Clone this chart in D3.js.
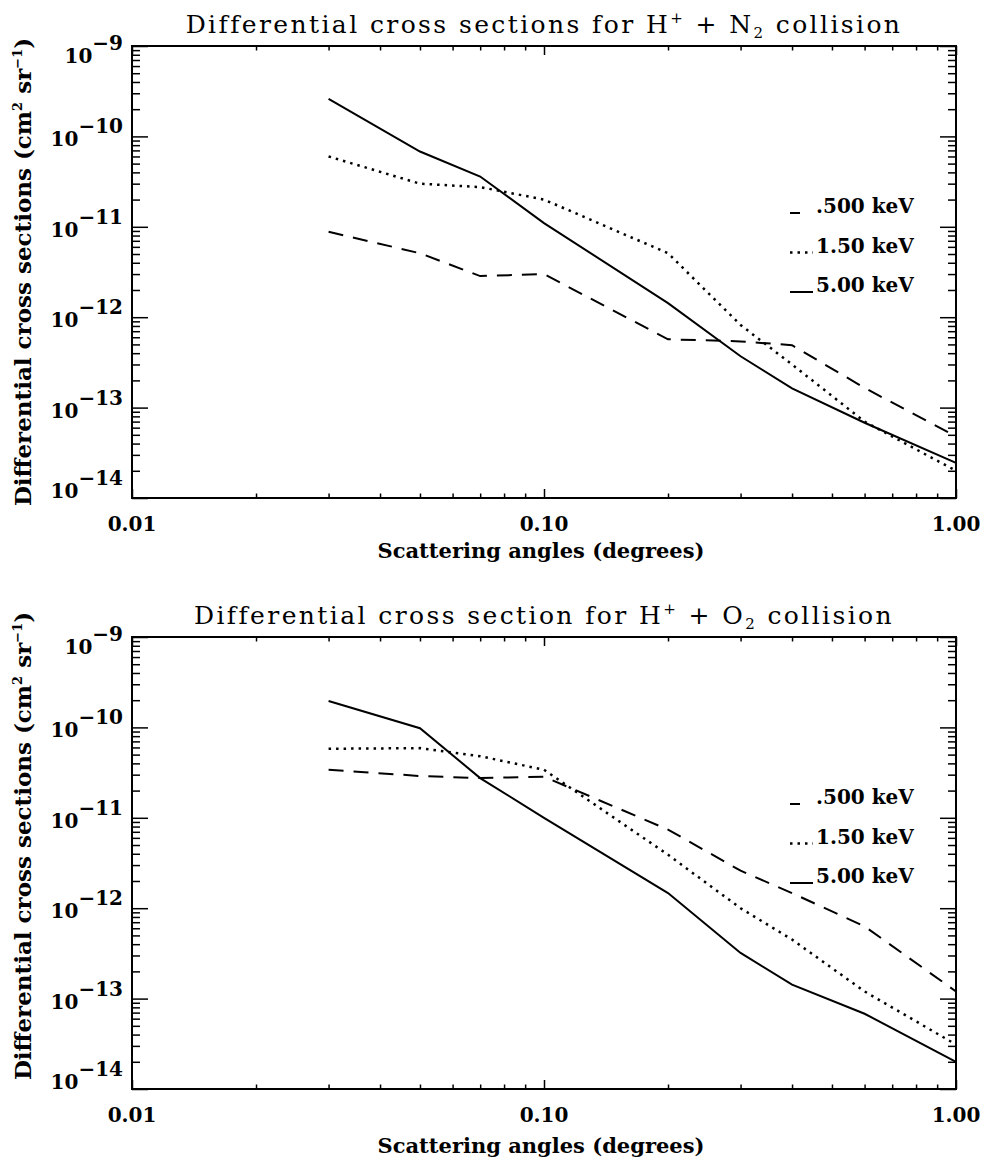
<!DOCTYPE html>
<html>
<head>
<meta charset="utf-8">
<script src="https://cdn.jsdelivr.net/npm/d3@7"></script>
<style>
body { margin: 0; background: #fff; }
</style>
</head>
<body>
<svg id="chart"></svg>
<script>
// scattering angles (degrees)
const angles = [0.03, 0.05, 0.07, 0.1, 0.2, 0.3, 0.4, 0.6, 1.0];

// H+ + N2, cm^2 sr^-1
const n2_500  = [8.8e-12, 5.1e-12, 2.85e-12, 3.0e-12, 5.7e-13, 5.4e-13, 4.9e-13, 1.65e-13, 4.8e-14];
const n2_1500 = [6.0e-11, 3.0e-11, 2.75e-11, 2.0e-11, 5.1e-12, 8.2e-13, 3.0e-13, 7.0e-14, 2.0e-14];
const n2_5000 = [2.6e-10, 6.8e-11, 3.6e-11, 1.1e-11, 1.43e-12, 3.7e-13, 1.63e-13, 6.8e-14, 2.45e-14];

// H+ + O2
const o2_500  = [3.4e-11, 2.9e-11, 2.75e-11, 2.85e-11, 7.4e-12, 2.6e-12, 1.47e-12, 6.3e-13, 1.2e-13];
const o2_1500 = [5.8e-11, 5.9e-11, 4.8e-11, 3.4e-11, 3.9e-12, 1.0e-12, 4.5e-13, 1.2e-13, 3.1e-14];
const o2_5000 = [1.96e-10, 9.8e-11, 2.75e-11, 1.0e-11, 1.47e-12, 3.2e-13, 1.43e-13, 6.8e-14, 2.0e-14];

const energies = ['.500 keV', '1.50 keV', '5.00 keV'];
const xMajor = [0.01, 0.1, 1];
const yExps = [-9, -10, -11, -12, -13, -14];

const dashes = ['15,10', '2.5,5', null];
const legendDash = ['10,20', '2.5,5', null];

const W = 985, H = 1166;
const left = 132, width = 824, height = 452;
const serif = '"DejaVu Serif", serif';

const svg = d3.select('#chart').attr('width', W).attr('height', H);

const panels = [
  {top: 46, target: 'N', plural: 's', series: [n2_500, n2_1500, n2_5000], labelMid: 272, xTitleOff: 60},
  {top: 637, target: 'O', plural: '', series: [o2_500, o2_1500, o2_5000], labelMid: 846, xTitleOff: 64}
];

const x = d3.scaleLog().domain([0.01, 1]).range([0, width]);
const y = d3.scaleLog().domain([1e-14, 1e-9]).range([height, 0]);

const xMinor = [];
[0.01, 0.1].forEach(d => { for (let k = 2; k <= 9; k++) xMinor.push(k * d); });
const yMinor = [];
for (let e = -14; e < -9; e++) for (let k = 2; k <= 9; k++) yMinor.push(k * Math.pow(10, e));
const yMajor = yExps.map(e => Math.pow(10, e));

const line = d3.line()
    .x((d, i) => x(angles[i]))
    .y(d => y(d));

panels.forEach(p => {
  const g = svg.append('g').attr('transform', `translate(${left},${p.top})`);

  // title
  const t = svg.append('text')
      .attr('x', left + width / 2)
      .attr('y', p.top - 13)
      .attr('text-anchor', 'middle')
      .attr('font-family', serif)
      .attr('font-size', 25)
      .attr('letter-spacing', 2.4);
  t.append('tspan').text(`Differential cross section${p.plural} for H`);
  t.append('tspan').attr('dy', -10).attr('font-size', 15).text('+');
  t.append('tspan').attr('dy', 10).text(` + ${p.target}`);
  t.append('tspan').attr('dy', 5).attr('font-size', 15).text('2');
  t.append('tspan').attr('dy', -5).text(' collision');

  // ticks, all pointing inward
  const tickAxis = (axis, major, minor, big, small, tr) => {
    [[major, big], [minor, small]].forEach(([vals, len]) => {
      g.append('g')
          .attr('transform', tr)
          .call(axis.tickValues(vals).tickSize(-len).tickFormat(''))
          .call(a => a.select('.domain').remove())
          .selectAll('line').attr('stroke', '#000').attr('stroke-width', 1.5);
    });
  };
  tickAxis(d3.axisBottom(x), xMajor, xMinor, 9, 4.5, `translate(0,${height})`);
  tickAxis(d3.axisTop(x), xMajor, xMinor, 9, 4.5, 'translate(0,0)');
  tickAxis(d3.axisLeft(y), yMajor, yMinor, 16, 8, 'translate(0,0)');
  tickAxis(d3.axisRight(y), yMajor, yMinor, 16, 8, `translate(${width},0)`);

  g.append('rect')
      .attr('width', width).attr('height', height)
      .attr('fill', 'none').attr('stroke', '#000').attr('stroke-width', 2);

  // x tick labels
  g.append('g').selectAll('text')
    .data(xMajor)
    .join('text')
      .attr('x', d => x(d))
      .attr('y', height + 33)
      .attr('text-anchor', 'middle')
      .attr('font-family', serif)
      .attr('font-weight', 'bold')
      .attr('font-size', 20)
      .text(d3.format('.2f'));

  // y tick labels 10^n
  g.append('g').selectAll('text')
    .data(yExps)
    .join('text')
      .attr('x', -9)
      .attr('y', e => Math.min(height, Math.max(17, y(Math.pow(10, e)) + 10)))
      .attr('text-anchor', 'end')
      .attr('font-family', serif)
      .attr('font-weight', 'bold')
      .attr('font-size', 20)
      .each(function(e) {
        const s = d3.select(this);
        s.append('tspan').text('10');
        s.append('tspan').attr('dy', -13).text('\u2212' + (-e));
      });

  // axis titles
  svg.append('text')
      .attr('x', left + width / 2 - 3)
      .attr('y', p.top + height + p.xTitleOff)
      .attr('text-anchor', 'middle')
      .attr('font-family', serif)
      .attr('font-weight', 'bold')
      .attr('font-size', 21)
      .text('Scattering angles (degrees)');

  const yl = svg.append('text')
      .attr('transform', `translate(31,${p.labelMid}) rotate(-90)`)
      .attr('text-anchor', 'middle')
      .attr('font-family', serif)
      .attr('font-weight', 'bold')
      .attr('font-size', 23);
  yl.append('tspan').text('Differential cross sections (cm');
  yl.append('tspan').attr('dy', -9).attr('font-size', 13).text('2');
  yl.append('tspan').attr('dy', 9).text(' sr');
  yl.append('tspan').attr('dy', -9).attr('font-size', 13).text('\u22121');
  yl.append('tspan').attr('dy', 9).text(')');

  // curves
  g.selectAll('path.curve')
    .data(p.series)
    .join('path')
      .attr('class', 'curve')
      .attr('d', line)
      .attr('fill', 'none')
      .attr('stroke', '#000')
      .attr('stroke-width', (d, i) => i === 1 ? 2.5 : 2)
      .attr('stroke-dasharray', (d, i) => dashes[i]);

  // legend
  const lg = g.append('g').selectAll('g')
    .data(energies)
    .join('g')
      .attr('transform', (d, i) => `translate(${790 - left},${167 + i * 39.5})`);
  lg.append('line')
      .attr('x1', 0).attr('x2', 23)
      .attr('stroke', '#000')
      .attr('stroke-width', (d, i) => i === 1 ? 2.5 : 2)
      .attr('stroke-dasharray', (d, i) => legendDash[i]);
  lg.append('text')
      .attr('x', 26)
      .attr('font-family', serif)
      .attr('font-weight', 'bold')
      .attr('font-size', 20)
      .text(d => d);
});
</script>
</body>
</html>
